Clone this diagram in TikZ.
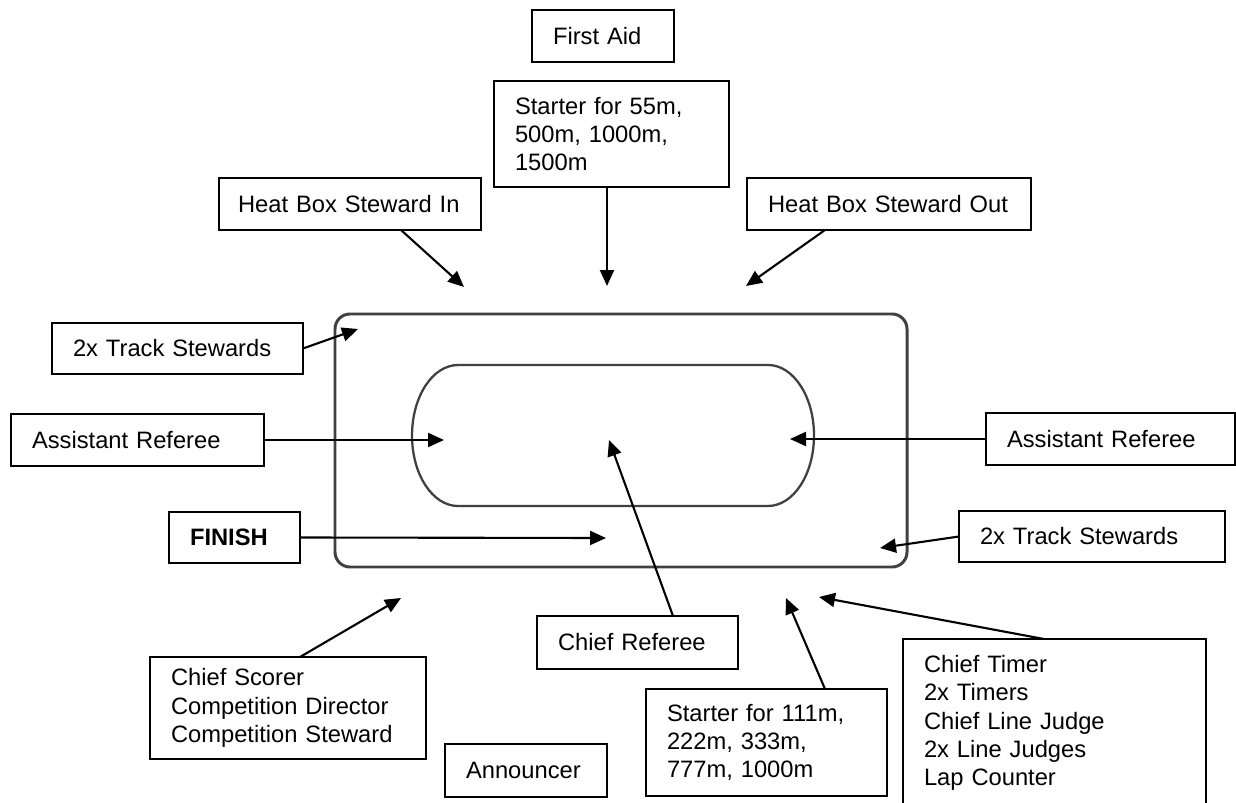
\documentclass[tikz,border=0pt]{standalone}
\usepackage{fontspec}
\setmainfont{Liberation Sans}
\usetikzlibrary{arrows.meta}

\begin{document}
\begin{tikzpicture}[x=0.02cm,y=-0.02cm,
  role/.style={draw=black, line width=1pt, fill=white, font=\fontsize{13.5}{16.1}\selectfont, align=left, inner xsep=0.42cm, inner ysep=0pt, outer sep=0pt},
  ptr/.style={-{Triangle[length=0.32cm,width=0.28cm]}, line width=1.2pt},
  track/.style={draw=black!75, line width=1.7pt}]
  \useasboundingbox (0,0) rectangle (1236,803);
  \clip (0,0) rectangle (1236,803);
  % piste
  \draw[track, rounded corners=0.3cm] (335,314) rectangle (907,567);
  \draw[track, line width=1.3pt] (458,365) -- (768,365)
    arc[start angle=90, end angle=-90, x radius=0.92cm, y radius=1.41cm]
    -- (458,506)
    arc[start angle=270, end angle=90, x radius=0.92cm, y radius=1.41cm] -- cycle;
  % postes
  \node[role, text width=2.00cm, minimum height=1.04cm] (aid) at (603,36) {First Aid};
  \node[role, text width=3.86cm, minimum height=2.12cm] (st55) at (611.5,134) {Starter for 55m,\\500m, 1000m,\\1500m};
  \node[role, text width=4.48cm, inner xsep=0.38cm, minimum height=1.04cm] (hbin) at (350,204) {Heat Box Steward In};
  \node[role, text width=4.84cm, minimum height=1.04cm] (hbout) at (889,204) {Heat Box Steward Out};
  \node[role, text width=4.18cm, minimum height=1.02cm] (tsl) at (177.5,348.5) {2x Track Stewards};
  \node[role, text width=4.22cm, minimum height=1.04cm] (arl) at (137.5,440) {Assistant Referee};
  \node[role, text width=4.14cm, minimum height=1.04cm] (arr) at (1110.5,439) {Assistant Referee};
  \node[role, text width=1.78cm, minimum height=1.02cm, font=\fontsize{13.5}{16.1}\selectfont\bfseries] (fin) at (234.5,537.5) {FINISH};
  \node[role, text width=4.48cm, minimum height=1.02cm] (tsr) at (1092,536.5) {2x Track Stewards};
  \node[role, text width=3.18cm, minimum height=1.06cm] (cref) at (637.5,642.5) {Chief Referee};
  \node[role, text width=4.68cm, minimum height=2.04cm] (score) at (288,708) {Chief Scorer\\Competition Director\\Competition Steward};
  \node[role, text width=2.40cm, minimum height=1.06cm] (ann) at (526,770.5) {Announcer};
  \node[role, text width=3.98cm, minimum height=2.14cm] (st111) at (766.5,742.5) {Starter for 111m,\\222m, 333m,\\777m, 1000m};
  \node[role, text width=5.22cm, minimum height=3.36cm] (timer) at (1054.5,723) {Chief Timer\\2x Timers\\Chief Line Judge\\2x Line Judges\\Lap Counter};
  % pointes des fleches
  \coordinate (tHin) at (464,287);
  \coordinate (t55) at (607,286);
  \coordinate (tHout) at (746,286);
  \coordinate (tTsl) at (358,329);
  \coordinate (tArl) at (444,440);
  \coordinate (tArr) at (790,439);
  \coordinate (tFin) at (606,538);
  \coordinate (tTsr) at (880,548);
  \coordinate (tCref) at (609,440);
  \coordinate (tScore) at (401,598);
  \coordinate (tSt111) at (786,598);
  \coordinate (tTimer) at (819,597);
  % fleches
  \draw[ptr] ([xshift=1.02cm]hbin.south) -- (tHin);
  \draw[ptr] (t55 |- st55.south) -- (t55);
  \draw[ptr] ([xshift=-1.28cm]hbout.south) -- (tHout);
  \draw[ptr] (tsl.east) -- (tTsl);
  \draw[ptr] (arl.east) -- (tArl);
  \draw[ptr] (arr.west) -- (tArr);
  \draw[ptr] (fin.east) -- (tFin);
  \draw[ptr] (tsr.west) -- (tTsr);
  \draw[ptr] ([xshift=0.71cm]cref.north) -- (tCref);
  \draw[ptr] ([xshift=0.24cm]score.north) -- (tScore);
  \draw[ptr] ([xshift=1.17cm]st111.north) -- (tSt111);
  \draw[ptr] ([xshift=-0.21cm]timer.north) -- (tTimer);
\end{tikzpicture}
\end{document}
